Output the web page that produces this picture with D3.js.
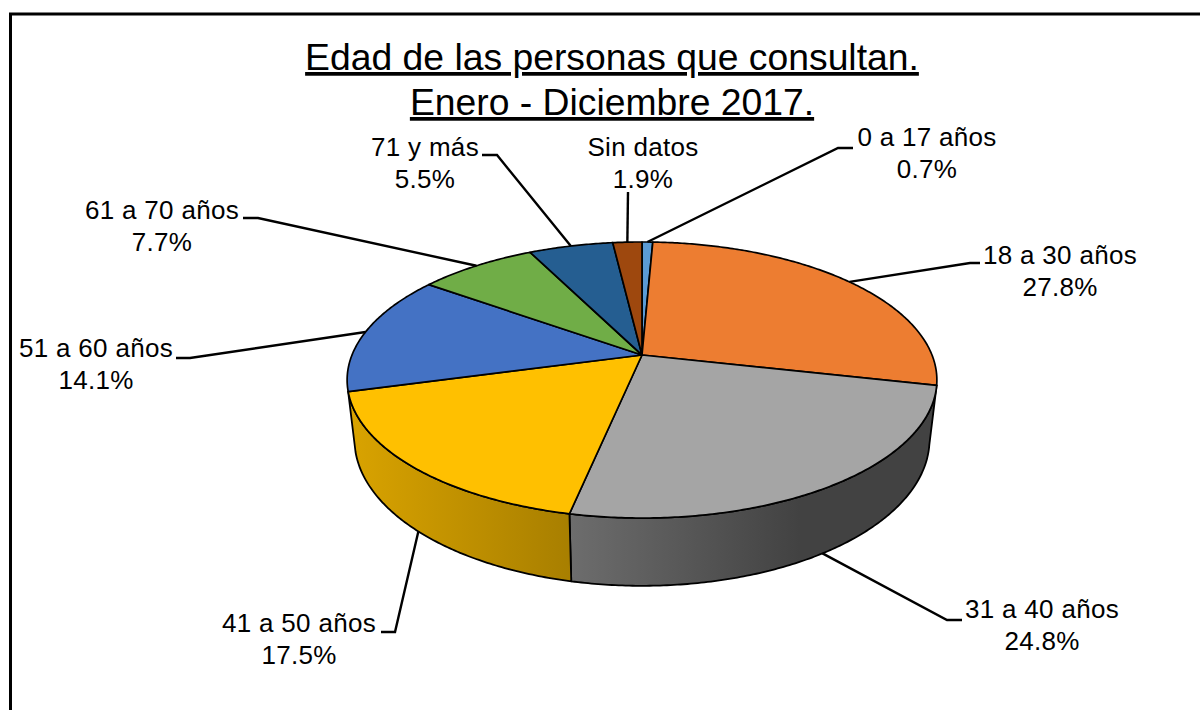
<!DOCTYPE html>
<html lang="es">
<head>
<meta charset="utf-8">
<script src="https://cdn.jsdelivr.net/npm/d3@7"></script>
<style>html,body{margin:0;padding:0;background:#fff}svg{display:block}</style>
</head>
<body>
<svg id="c" width="1200" height="710"></svg>
<script>
const titleLines = ["Edad de las personas que consultan.", "Enero - Diciembre 2017."];
const categories = ["0 a 17 años","18 a 30 años","31 a 40 años","41 a 50 años","51 a 60 años","61 a 70 años","71 y más","Sin datos"];
const values = [0.7,27.8,24.8,17.5,14.1,7.7,5.5,1.9];
const colors = ["#5b9bd5","#ed7d31","#a5a5a5","#ffc000","#4472c4","#70ad47","#255e91","#9e480e"];
// label centre x, first baseline y, leader elbow x/y, leader end x
const labelX = [927,1060,1042,299,96,162,425,643];
const labelY = [146,264,618,632,357,219,156,156];
const elbowX = [838,970,947,395,190,258,497,628];
const elbowY = [148,263,620,632,358,218,155,192];
const endX   = [853,980,962,381,176,243,482,628];

const svg = d3.select("#c");
const W = 1200, H = 710;
const font = "'Liberation Sans', Arial, sans-serif";

// frame
svg.append("path").attr("d", d3.line()([[10.5,H],[10.5,14],[W,14]]))
  .attr("fill","none").attr("stroke","#000").attr("stroke-width",3);

// projection of the pie's circle to the page
const cx = 642, cy = 355, R = 290, kR = 133.5, dist = 5.52;
const top3d = a => {
  const u = Math.sin(a), v = Math.cos(a), s = dist/(dist+v);
  return [cx + R*u*s, cy - kR*v*s];
};
const bottom3d = a => {
  const [x,y] = top3d(a);
  return [cx + (x-cx)*0.975, cy + (y-cy)*1.06 + 58];
};
const arcPts = (f,a0,a1) => {
  const n = Math.max(2, Math.ceil(Math.abs(a1-a0)/0.01));
  return d3.range(n+1).map(i => f(a0 + (a1-a0)*i/n));
};
const line = d3.line();

const pie = d3.pie().sort(null).value(d => d)(values);

// side shading
const shade = d3.scaleLinear().domain([350,570,800,940]).range([0.85,0.66,0.40,0.40]);
const defs = svg.append("defs");
pie.forEach((d,i) => {
  const g = defs.append("linearGradient").attr("id","side"+i)
    .attr("gradientUnits","userSpaceOnUse")
    .attr("x1",350).attr("x2",940).attr("y1",0).attr("y2",0);
  shade.domain().forEach(x => {
    const c = d3.rgb(colors[i]), f = shade(x);
    g.append("stop").attr("offset",(x-350)/590)
      .attr("stop-color", d3.rgb(c.r*f,c.g*f,c.b*f).formatHex());
  });
});

// walls: only the part of the rim that faces the viewer
const visA = Math.PI*0.56, visB = Math.PI*1.42;
const walls = svg.append("g");
pie.forEach((d,i) => {
  const a0 = Math.max(d.startAngle,visA), a1 = Math.min(d.endAngle,visB);
  if (a1 - a0 < 0.05) return;
  const pts = arcPts(top3d,a0,a1).concat(arcPts(bottom3d,a1,a0));
  walls.append("path").attr("d", line(pts)+"Z")
    .attr("fill",`url(#side${i})`).attr("stroke","#000").attr("stroke-width",1.8)
    .attr("stroke-linejoin","round");
});

// top faces
const tops = svg.append("g");
pie.forEach((d,i) => {
  const pts = [[cx,cy]].concat(arcPts(top3d,d.startAngle,d.endAngle));
  tops.append("path").attr("d", line(pts)+"Z")
    .attr("fill",colors[i]).attr("stroke","#000").attr("stroke-width",1.7)
    .attr("stroke-linejoin","round");
});

// leaders
const leaders = svg.append("g").attr("fill","none").attr("stroke","#000").attr("stroke-width",2.4);
pie.forEach((d,i) => {
  const mid = (d.startAngle+d.endAngle)/2;
  const front = mid > Math.PI*0.6 && mid < Math.PI*1.4;
  const start = front ? bottom3d(mid) : top3d(mid);
  leaders.append("path").attr("d", line([start,[elbowX[i],elbowY[i]],[endX[i],elbowY[i]]]));
});

// labels
const labels = svg.append("g").attr("font-family",font).attr("font-size",26)
  .attr("letter-spacing",0.3).attr("fill","#000").attr("text-anchor","middle");
categories.forEach((c,i) => {
  labels.append("text").attr("x",labelX[i]).attr("y",labelY[i]).text(c);
  labels.append("text").attr("x",labelX[i]).attr("y",labelY[i]+32).text(d3.format(".1f")(values[i])+"%");
});

// title
const t = svg.append("g").attr("font-family",font).attr("font-size",37.3)
  .attr("fill","#000").attr("text-anchor","middle").attr("text-decoration","underline");
titleLines.forEach((s,i) => t.append("text").attr("x",612).attr("y",70+i*45).text(s));
</script>
</body>
</html>
